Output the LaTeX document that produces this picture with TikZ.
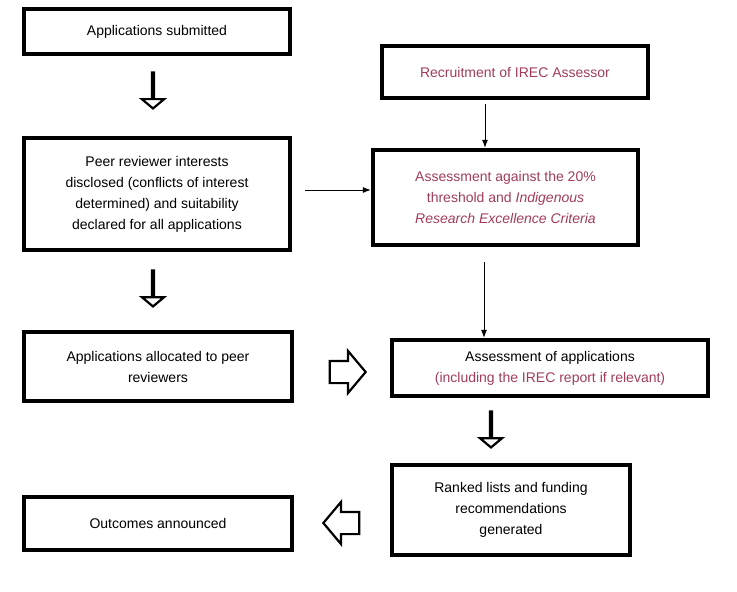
\documentclass[tikz,border=0pt]{standalone}
\usepackage{fontspec}
\setmainfont{Liberation Sans}
\usetikzlibrary{shapes.arrows,arrows.meta}
\definecolor{irec}{HTML}{A23C5A}
\begin{document}
\begin{tikzpicture}[x=1pt,y=-1pt,
  box/.style={draw,line width=4.5pt,align=center,font=\fontsize{14}{21}\selectfont,inner sep=0pt},
  hol/.style={draw,line width=2.2pt,fill=white,single arrow,minimum height=36pt,single arrow head extend=10pt,inner xsep=0pt,inner ysep=10pt,single arrow tip angle=100},
  thin/.style={-{Latex[length=8pt,width=6pt]},line width=0.8pt}]
\useasboundingbox (0,0) rectangle (737,592);
\node[box,minimum width=266pt,minimum height=45pt] (A) at (157,31.5) {Applications submitted};
\node[box,minimum width=266pt,minimum height=52pt,text=irec] (R) at (515,72) {Recruitment of IREC Assessor};
\node[box,minimum width=266pt,minimum height=112pt] (P) at (157,194) {Peer reviewer interests\\disclosed (conflicts of interest\\determined) and suitability\\declared for all applications};
\node[box,minimum width=265pt,minimum height=95pt,text=irec] (S) at (505.5,197.5) {Assessment against the 20\%\\threshold and \textit{Indigenous}\\\textit{Research Excellence Criteria}};
\node[box,minimum width=268pt,minimum height=69pt] (L) at (158,366.5) {Applications allocated to peer\\reviewers};
\node[box,minimum width=316pt,minimum height=56pt] (M) at (550,368) {Assessment of applications\\\textcolor{irec}{(including the IREC report if relevant)}};
\node[box,minimum width=238pt,minimum height=90pt] (K) at (511,510) {Ranked lists and funding\\recommendations\\generated};
\node[box,minimum width=268pt,minimum height=53pt] (O) at (158,523.5) {Outcomes announced};
\node[hol,shape border rotate=270] (h1) at (153,90) {};
\node[hol,shape border rotate=270] (h2) at (153,288) {};
\node[hol] (h3) at (343,372) {};
\node[hol,shape border rotate=270] (h4) at (491,429) {};
\node[hol,shape border rotate=180] (h5) at (346,523) {};
\coordinate (c1) at (485,104);
\coordinate (c2) at (305,190);
\coordinate (c3) at (484,262);
\draw[thin] (c1) -- (S.north -| c1);
\draw[thin] (c2) -- (S.west |- c2);
\draw[thin] (c3) -- (M.north -| c3);
\end{tikzpicture}
\end{document}
